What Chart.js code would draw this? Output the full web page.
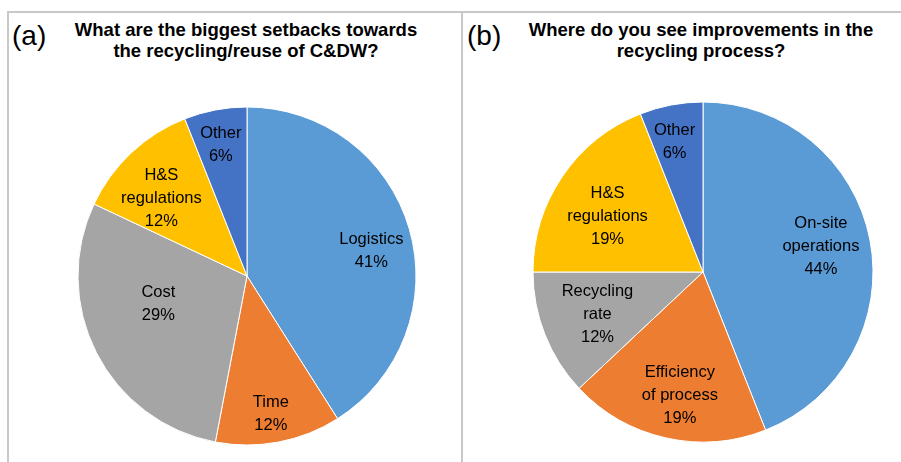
<!DOCTYPE html>
<html>
<head>
<meta charset="utf-8">
<script src="https://cdn.jsdelivr.net/npm/chart.js@4/dist/chart.umd.min.js"></script>
<style>
  body { margin: 0; background: #fff; }
  #wrap { position: relative; width: 901px; height: 462px; overflow: hidden; font-family: "Liberation Sans", Arial, sans-serif; }
  .line { position: absolute; background: #c8c8c8; }
  .tag { position: absolute; font-size: 28px; line-height: 32px; color: #000; }
  .title { position: absolute; width: 420px; font-weight: bold; font-size: 18.5px; line-height: 21px; text-align: center; color: #000; }
  canvas { position: absolute; }
</style>
</head>
<body>
<div id="wrap">
  <div class="line" style="left:8px; top:11px; width:893px; height:2px;"></div>
  <div class="line" style="left:7px; top:11px; width:2px; height:451px;"></div>
  <div class="line" style="left:461px; top:11px; width:2px; height:451px;"></div>

  <div class="tag" style="left:12px; top:20px;">(a)</div>
  <div class="title" style="left:36px; top:19px;">What are the biggest setbacks towards<br>the recycling/reuse of C&amp;DW?</div>

  <div class="tag" style="left:467px; top:20px;">(b)</div>
  <div class="title" style="left:491px; top:19px;">Where do you see improvements in the<br>recycling process?</div>

  <canvas id="chartA" width="360" height="360" style="left:67px; top:96px;"></canvas>
  <canvas id="chartB" width="360" height="360" style="left:523px; top:92px;"></canvas>
</div>

<script>
// (a) setbacks
const setbackLabels = ["Logistics", "Time", "Cost", ["H&S", "regulations"], "Other"];
const setbackValues = [41, 12, 29, 12, 6];

// (b) improvements
const improveLabels = [["On-site", "operations"], ["Efficiency", "of process"], ["Recycling", "rate"], ["H&S", "regulations"], "Other"];
const improveValues = [44, 19, 12, 19, 6];

const sliceColors = ["#5B9BD5", "#ED7D31", "#A5A5A5", "#FFC000", "#4472C4"];

// draws the category + percent inside each slice
const sliceLabels = {
  id: "sliceLabels",
  afterDatasetsDraw(chart, args, opts) {
    const ctx = chart.ctx;
    const meta = chart.getDatasetMeta(0);
    const values = chart.data.datasets[0].data;
    ctx.save();
    ctx.font = "16.5px 'Liberation Sans', Arial, sans-serif";
    ctx.fillStyle = "#000";
    ctx.textAlign = "center";
    ctx.textBaseline = "middle";
    meta.data.forEach((arc, i) => {
      const p = arc.getProps(["x", "y", "startAngle", "endAngle", "outerRadius"], true);
      const mid = (p.startAngle + p.endAngle) / 2 + (opts.shift[i] * Math.PI) / 180;
      const r = p.outerRadius * opts.radius[i];
      const cx = p.x + Math.cos(mid) * r;
      const cy = p.y + Math.sin(mid) * r;
      const lines = [].concat(chart.data.labels[i], values[i] + "%");
      lines.forEach((t, j) => {
        ctx.fillText(t, cx, cy + (j - (lines.length - 1) / 2) * 23);
      });
    });
    ctx.restore();
  },
};

function makePie(id, labels, values, radius, labelRadius, labelShift) {
  return new Chart(document.getElementById(id), {
    type: "pie",
    data: {
      labels: labels,
      datasets: [
        {
          data: values,
          backgroundColor: sliceColors,
          borderColor: "#ffffff",
          borderWidth: 1,
        },
      ],
    },
    options: {
      responsive: false,
      animation: false,
      radius: radius,
      layout: { padding: 0 },
      plugins: {
        legend: { display: false },
        tooltip: { enabled: false },
        title: { display: false },
        sliceLabels: { radius: labelRadius, shift: labelShift },
      },
    },
    plugins: [sliceLabels],
  });
}

makePie("chartA", setbackLabels, setbackValues, 169,
  [0.75, 0.83, 0.55, 0.685, 0.79], [5, 1, 9.5, -4.5, -0.5]);
makePie("chartB", improveLabels, improveValues, 170,
  [0.71, 0.74, 0.67, 0.65, 0.785], [-1.5, -2, -0.5, -4, -1.5]);
</script>
</body>
</html>
